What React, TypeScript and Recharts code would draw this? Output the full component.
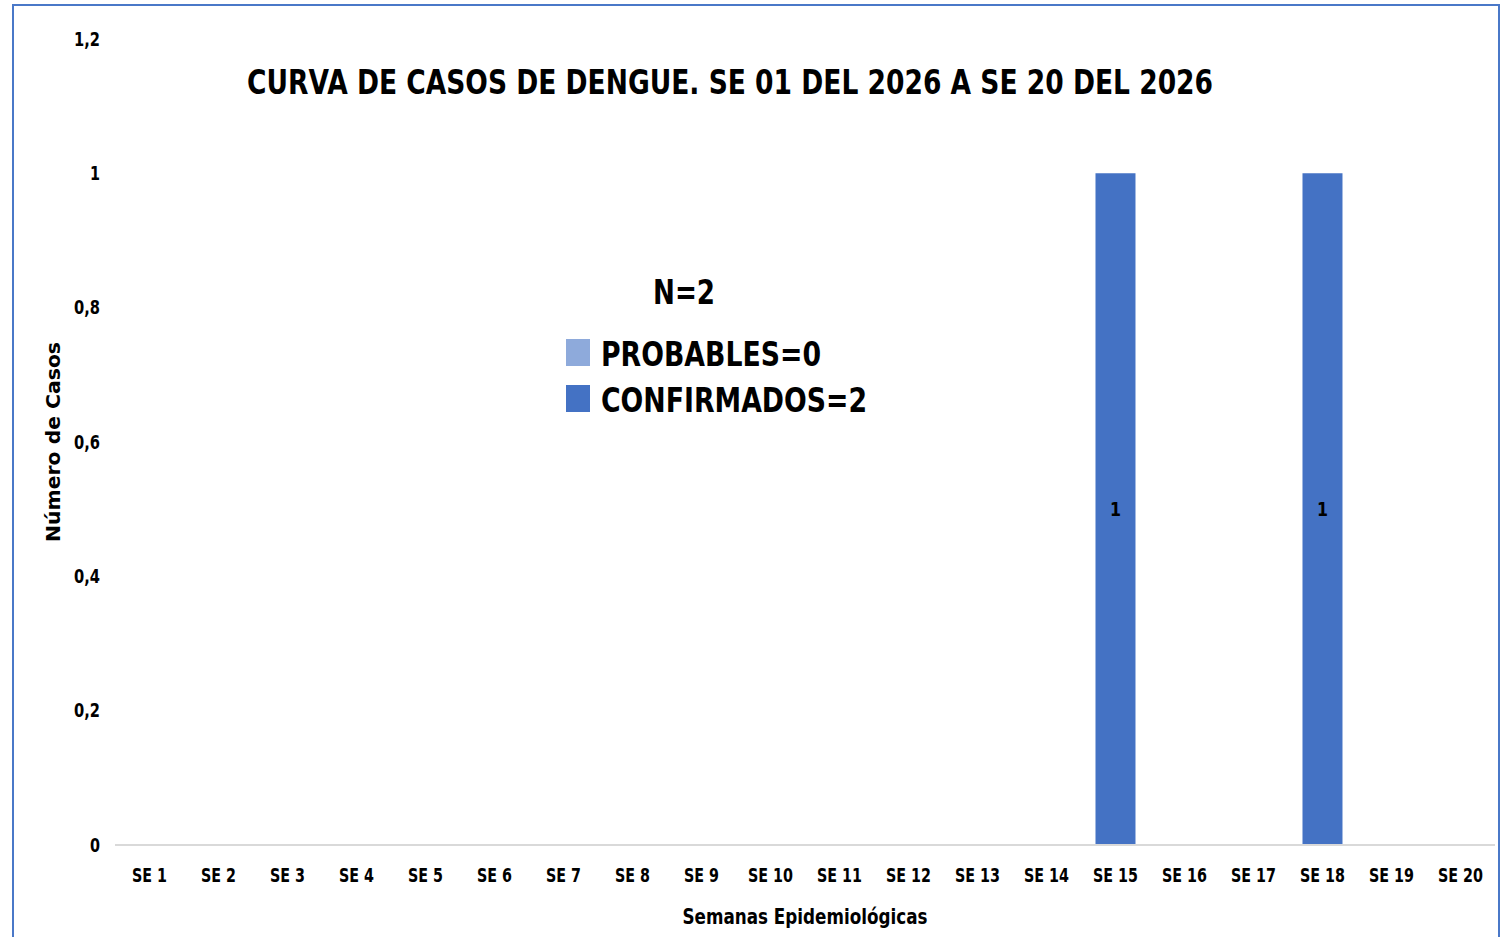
import React from "react";
import { Bar, BarChart, LabelList, XAxis, YAxis } from "recharts";

const weeks = [
  "SE 1", "SE 2", "SE 3", "SE 4", "SE 5", "SE 6", "SE 7", "SE 8", "SE 9", "SE 10",
  "SE 11", "SE 12", "SE 13", "SE 14", "SE 15", "SE 16", "SE 17", "SE 18", "SE 19", "SE 20"
];
const probables = [0, 0, 0, 0, 0, 0, 0, 0, 0, 0, 0, 0, 0, 0, 0, 0, 0, 0, 0, 0];
const confirmados = [0, 0, 0, 0, 0, 0, 0, 0, 0, 0, 0, 0, 0, 0, 1, 0, 0, 1, 0, 0];
const yTicks = [0, 0.2, 0.4, 0.6, 0.8, 1, 1.2];

const title = "CURVA DE CASOS DE DENGUE. SE 01 DEL 2026 A SE 20 DEL 2026";
const totalLabel = "N=2";
const legendItems = [
  { name: "PROBABLES=0", color: "#8eaadb" },
  { name: "CONFIRMADOS=2", color: "#4472c4" }
];

const data = weeks.map((w, i) => ({
  week: w,
  probables: probables[i],
  confirmados: confirmados[i]
}));

const FONT = "'DejaVu Sans', sans-serif";

// the source looks squeezed sideways (Calibri-like), so text widths get squeezed too
let ctx: CanvasRenderingContext2D | null = null;
function squeeze(text: string, size: number, sx: number) {
  if (!ctx) ctx = document.createElement("canvas").getContext("2d");
  if (!ctx) return undefined;
  ctx.font = `bold ${size}px 'DejaVu Sans'`;
  return Math.round(ctx.measureText(text).width * sx);
}

function SText(props: any) {
  const { text, size, sx, ...rest } = props;
  return (
    <text
      fill="#000"
      fontSize={size}
      fontWeight={700}
      fontFamily={FONT}
      textLength={squeeze(text, size, sx)}
      lengthAdjust="spacingAndGlyphs"
      {...rest}
    >
      {text}
    </text>
  );
}

function XTick(props: any) {
  const { x, y, payload } = props;
  return <SText x={x} y={y} dy="0.75em" textAnchor="middle" text={payload.value} size={20} sx={0.72} />;
}

function YTick(props: any) {
  const { x, y, payload } = props;
  const t = String(payload.value).replace(".", ",");
  return <SText x={x} y={y} dy="0.355em" textAnchor="end" text={t} size={19} sx={0.78} />;
}

function BarValue(props: any) {
  const { x, y, width, height, value } = props;
  if (!value) return null;
  return (
    <SText
      x={x + width / 2}
      y={y + height / 2}
      dy="0.355em"
      textAnchor="middle"
      text={String(value)}
      size={20}
      sx={0.8}
    />
  );
}

export default function App() {
  return (
    <div
      style={{
        position: "fixed",
        left: 0,
        top: 0,
        width: 1506,
        height: 937,
        background: "#fff",
        overflow: "hidden"
      }}
    >
      <div
        style={{
          position: "absolute",
          left: 12,
          top: 4,
          width: 1484,
          height: 950,
          border: "2px solid #4a78c8"
        }}
      />
      <BarChart
        width={1506}
        height={937}
        data={data}
        margin={{ top: 39, right: 11, bottom: 7, left: 55 }}
        barCategoryGap="21%"
        style={{ position: "absolute", left: 0, top: 0 }}
      >
        <XAxis
          dataKey="week"
          height={85}
          axisLine={{ stroke: "#d9d9d9", strokeWidth: 2 }}
          tickLine={false}
          tickSize={0}
          tickMargin={22}
          interval={0}
          tick={<XTick />}
          label={(p: any) => {
            const vb = p.viewBox || {};
            return (
              <SText
                x={vb.x + vb.width / 2}
                y={vb.y + vb.height - 6}
                textAnchor="middle"
                text="Semanas Epidemiológicas"
                size={21}
                sx={0.8}
              />
            );
          }}
        />
        <YAxis
          width={60}
          domain={[0, 1.2]}
          ticks={yTicks}
          axisLine={false}
          tickLine={false}
          tickSize={0}
          tickMargin={15}
          tick={<YTick />}
          label={(p: any) => {
            const vb = p.viewBox || {};
            const cx = vb.x - 2;
            const cy = vb.y + vb.height / 2;
            return (
              <SText
                x={cx}
                y={cy}
                transform={`rotate(-90 ${cx} ${cy})`}
                textAnchor="middle"
                dominantBaseline="central"
                text="Número de Casos"
                size={19}
                sx={1.07}
              />
            );
          }}
        />
        <Bar
          dataKey="probables"
          name={legendItems[0].name}
          stackId="a"
          fill={legendItems[0].color}
          isAnimationActive={false}
        />
        <Bar
          dataKey="confirmados"
          name={legendItems[1].name}
          stackId="a"
          fill={legendItems[1].color}
          isAnimationActive={false}
        >
          <LabelList dataKey="confirmados" content={<BarValue />} />
        </Bar>
      </BarChart>
      <svg
        width={1506}
        height={937}
        style={{ position: "absolute", left: 0, top: 0, pointerEvents: "none" }}
      >
        <SText x={730} y={94} textAnchor="middle" text={title} size={34} sx={0.78} />
        <SText x={653} y={304} text={totalLabel} size={33} sx={0.79} />
        {legendItems.map((it, i) => (
          <g key={it.name}>
            <rect x={566} y={339 + i * 46} width={24} height={27} fill={it.color} />
            <SText x={601} y={366 + i * 46} text={it.name} size={33} sx={0.81} />
          </g>
        ))}
      </svg>
    </div>
  );
}
